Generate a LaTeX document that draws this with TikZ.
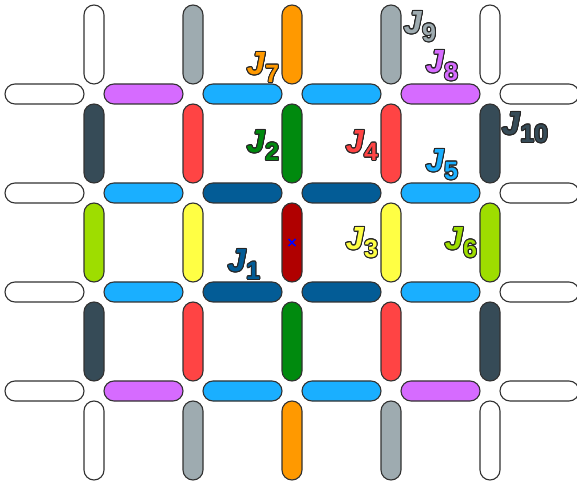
\documentclass[tikz,border=0pt]{standalone}
\usepackage{fontspec}
\setmainfont{Liberation Sans}
\usepackage[copies]{contour}
\contourlength{0.5pt}
\usetikzlibrary{positioning}
\definecolor{barpurple}{RGB}{214,107,255}
\definecolor{barsky}{RGB}{26,175,255}
\definecolor{barnavy}{RGB}{3,92,150}
\definecolor{barslate}{RGB}{54,75,87}
\definecolor{barred}{RGB}{255,68,68}
\definecolor{baryellow}{RGB}{255,255,68}
\definecolor{barlime}{RGB}{158,221,0}
\definecolor{bargreen}{RGB}{0,138,14}
\definecolor{barorange}{RGB}{255,153,0}
\definecolor{bargray}{RGB}{158,171,176}
\definecolor{bardarkred}{RGB}{176,0,0}
\definecolor{edge}{RGB}{50,50,50}
% label J_n with outline
\newcommand{\jlabel}[2]{\textcolor{#1}{\contour{black!85}{\textbf{\textit{J}}}\raisebox{-4pt}{\fontsize{12.5}{12.5}\selectfont\bfseries\contour{black!85}{#2}}}}

\begin{document}
\begin{tikzpicture}[
            x=0.5pt, y=-0.5pt,
            hbar/.style={draw=edge, line width=0.55pt, rounded corners=5pt, minimum width=39.5pt, minimum height=10pt, inner sep=0pt},
            vbar/.style={draw=edge, line width=0.55pt, rounded corners=5pt, minimum width=10pt, minimum height=39.5pt, inner sep=0pt},
            jtag/.style={inner sep=0pt, font=\fontsize{16}{16}\selectfont},
            xmark/.style={draw=blue, line width=0.8pt}
        ]
            \useasboundingbox (0,0) rectangle (577,485);
            % horizontal bars, rows top to bottom
            \foreach \r/\cols in {0/{white,barpurple,barsky,barsky,barpurple,white},
                                  1/{white,barsky,barnavy,barnavy,barsky,white},
                                  2/{white,barsky,barnavy,barnavy,barsky,white},
                                  3/{white,barpurple,barsky,barsky,barpurple,white}}{
                \foreach \c [count=\i from 0] in \cols {
                    \node[hbar, fill=\c] (h-\r-\i) at (44.5+99*\i, 94+99*\r) {};
                }
            }
            % vertical bars, columns left to right
            \foreach \k/\cols in {0/{white,barslate,barlime,barslate,white},
                                  1/{bargray,barred,baryellow,barred,bargray},
                                  2/{barorange,bargreen,bardarkred,bargreen,barorange},
                                  3/{bargray,barred,baryellow,barred,bargray},
                                  4/{white,barslate,barlime,barslate,white}}{
                \foreach \c [count=\j from 0] in \cols {
                    \node[vbar, fill=\c] (v-\k-\j) at (94+99*\k, 44.5+99*\j) {};
                }
            }
            % centre mark
            \draw[xmark] ([shift={(-3.5,-3.5)}]v-2-2.center) -- ([shift={(3.5,3.5)}]v-2-2.center);
            \draw[xmark] ([shift={(-3.5,3.5)}]v-2-2.center) -- ([shift={(3.5,-3.5)}]v-2-2.center);
            % labels
            \node[jtag] (j1) at (244,265) {\jlabel{barnavy}{1}};
            \node[jtag] (j2) at (263,146) {\jlabel{bargreen}{2}};
            \node[jtag] (j3) at (362,243) {\jlabel{baryellow}{3}};
            \node[jtag] (j4) at (362,146) {\jlabel{barred}{4}};
            \node[jtag] (j5) at (442,165) {\jlabel{barsky}{5}};
            \node[jtag] (j6) at (461,243) {\jlabel{barlime}{6}};
            \node[jtag] (j7) at (263,68) {\jlabel{barorange}{7}};
            \node[jtag] (j8) at (442,66) {\jlabel{barpurple}{8}};
            \node[jtag] (j9) at (420,27) {\jlabel{bargray}{9}};
            \node[jtag] (j10) at (525,128) {\jlabel{barslate}{10}};
        \end{tikzpicture}
\end{document}
